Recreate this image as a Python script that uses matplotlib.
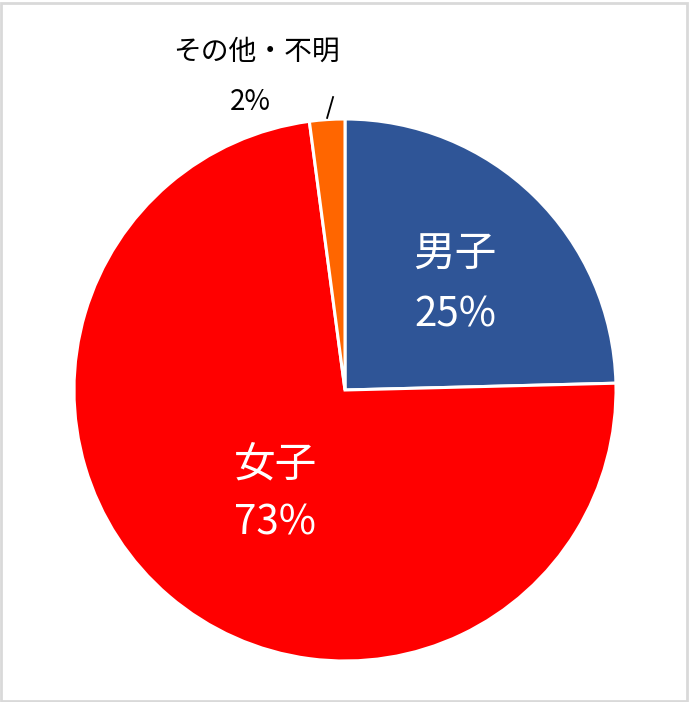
import matplotlib
matplotlib.use("Agg")
import matplotlib.pyplot as plt

plt.rcParams['font.family'] = ['Noto Sans CJK JP', 'DejaVu Sans']

categories = ['男子', '女子', 'その他・不明']
values = [24.6, 73.3, 2.1]
colors = ['#2F5597', '#FF0000', '#FF6600']

fig = plt.figure(figsize=(6.9, 7.02), dpi=100)
# border
fig.patches.append(plt.Rectangle((0.002, 0.002), 0.994, 0.994, transform=fig.transFigure,
                                 fill=False, edgecolor='#D9D9D9', linewidth=2))

ax = fig.add_axes([74/690, (702-390-271)/702, 542/690, 542/702])
wedges, _ = ax.pie(values, colors=colors, startangle=90, counterclock=False,
                   radius=1.0, wedgeprops=dict(edgecolor='white', linewidth=2.2))
ax.set_xlim(-1, 1)
ax.set_ylim(-1, 1)
ax.set_aspect('auto')
ax.axis('off')

total = sum(values)
pcts = [f"{round(v / total * 100):d}%" for v in values]

inner_pos = {0: (0.406, 0.498, 0.277), 1: (-0.258, -0.277, -0.491)}
for i, (x, y1, y2) in inner_pos.items():
    ax.text(x, y1, categories[i], ha='center', va='center', color='white', fontsize=30)
    ax.text(x, y2, pcts[i], ha='center', va='center', color='white', fontsize=29)

ax.text(-0.328, 1.247, categories[2], ha='center', va='center', color='black',
        fontsize=20, clip_on=False)
ax.text(-0.351, 1.063, pcts[2], ha='center', va='center', color='black',
        fontsize=20, clip_on=False)
ax.plot([-0.066, -0.044], [1.004, 1.081], color='black', linewidth=1.3, clip_on=False)

fig.savefig('out.png', dpi=100)
